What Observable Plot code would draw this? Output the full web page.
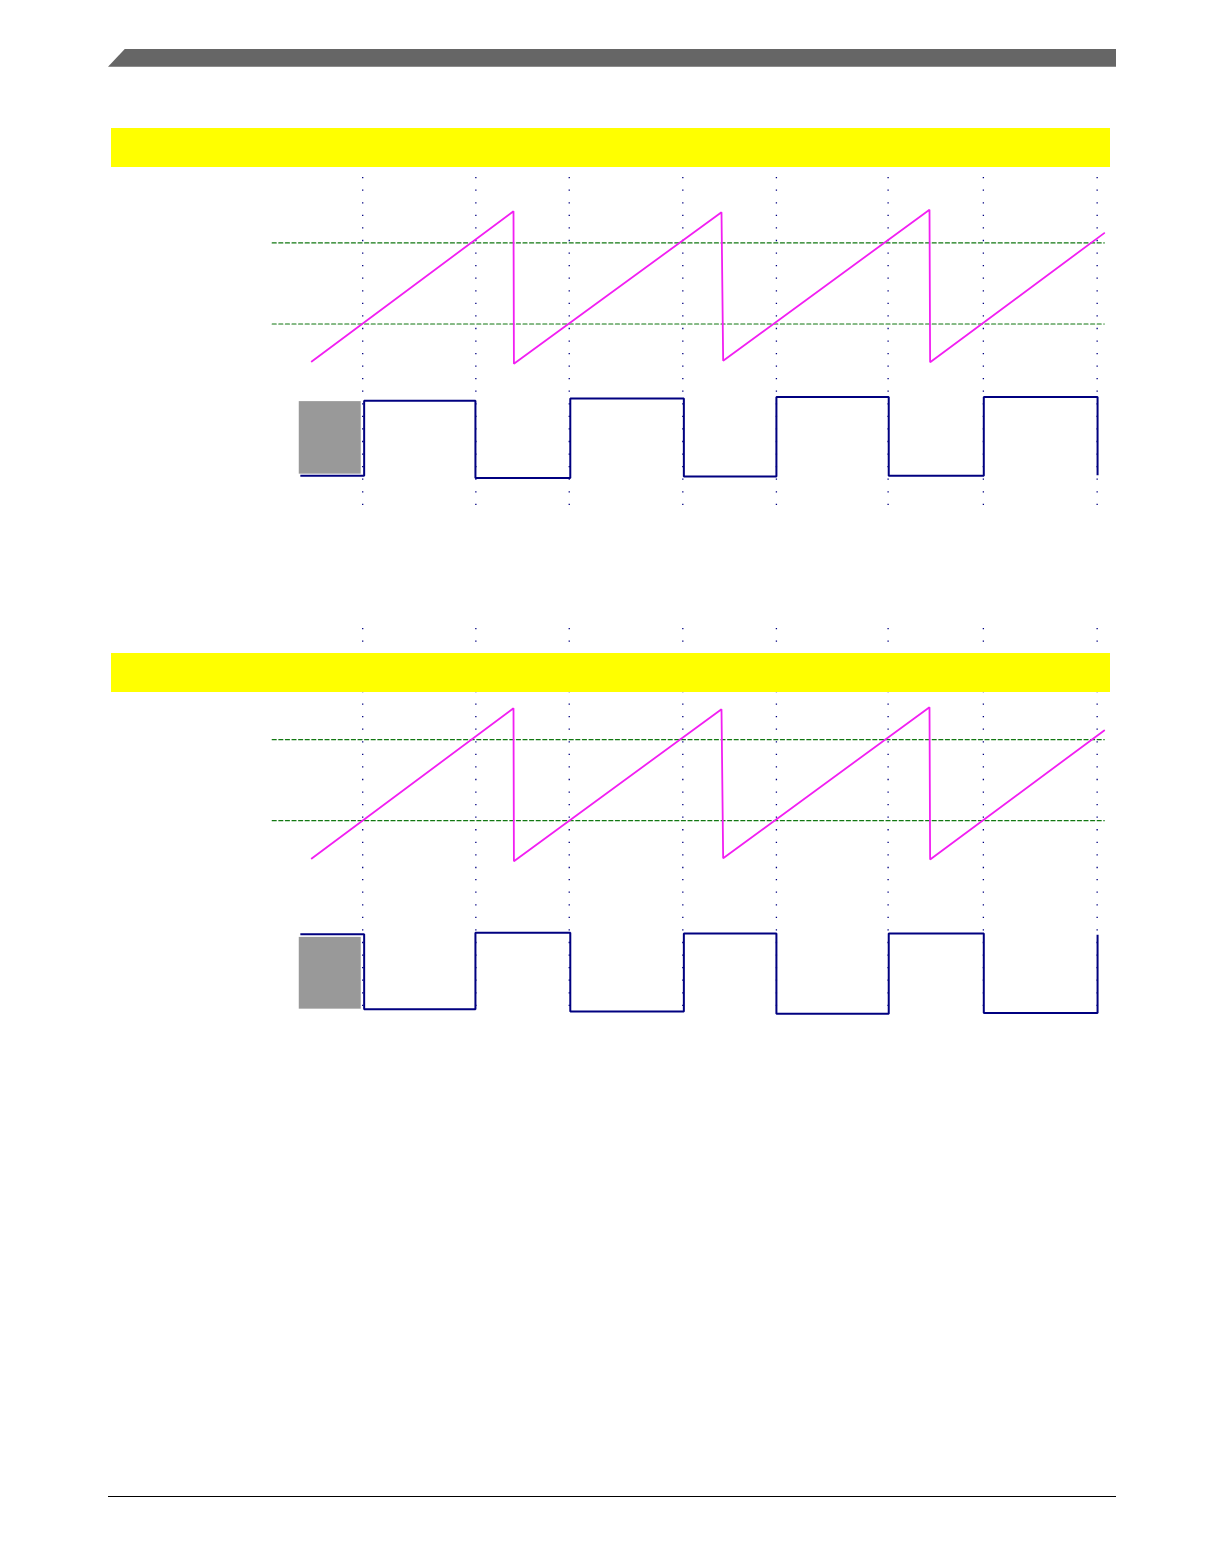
<!DOCTYPE html>
<html>
<head>
<meta charset="utf-8">
<script src="https://cdn.jsdelivr.net/npm/d3@7"></script>
<script src="https://cdn.jsdelivr.net/npm/@observablehq/plot@0.6"></script>
<style>
  html, body { margin: 0; padding: 0; background: #fff; }
  #page { position: relative; width: 1224px; height: 1555px; background: #fff; overflow: hidden; font-family: "Liberation Sans", Arial, sans-serif; }
  .abs { position: absolute; }
  .header { left: 108px; top: 48.7px; width: 1008px; height: 18px; background: #666666;
            clip-path: polygon(17px 0, 100% 0, 100% 100%, 0 100%); }
  .footer { left: 108px; top: 1496px; width: 1008px; height: 1.2px; background: #000; }
  .band { left: 111px; width: 999px; height: 39.3px; background: #ffff00; z-index: 5; }
  .panel svg { display: block; }
</style>
</head>
<body>
<div id="page">
  <div class="abs header"></div>
  <div class="abs band" style="top:127.7px"></div>
  <div class="abs band" style="top:652.7px"></div>
  <div class="abs footer"></div>
</div>
<script>
// ---- data (time in µs-like units, counter in counts, output as logic level) ----
const rampTime   = [0.3, 10, 10.02, 20, 20.08, 30, 30.03, 38.4];
const ramp1Count = [1.5, 99.7, 0, 99.1, 2, 100.7, 1, 85.4];
const ramp2Count = [1.3, 99.5, -0.5, 98.9, 1.5, 100.2, 0.7, 85];
const thresholds = [26, 79];
const thresholdSpan = [-1.6, 38.4];
const gridTimes  = [2.75, 8.19, 12.68, 18.14, 22.64, 28.01, 32.59, 38.06];
const edgeTimes  = [-0.2, 2.82, 8.17, 12.73, 18.19, 22.64, 28.04, 32.61, 38.08];
const out1Level  = [0.01, 0.97, -0.02, 1.0, 0.0, 1.02, 0.01, 1.02, 0.03];
const out2Level  = [0.99, 0.03, 1.01, 0.0, 1.0, -0.03, 1.0, -0.02, 0.97];
const unknownSpan = [-0.3, 2.68];
const unknown1Level = [0.03, 0.96];
const unknown2Level = [0.03, 0.95];

// ---- styling ----
const rampColor = "#f21ff2";
const outColor = "#000080";
const gridColor = "#000080";
const thrColor = "#117711";
const unknownColor = "#999999";
const W = 1224;
const xScale = {domain: [0, 40], range: [305, 1137], axis: null};

function place(svg, top) {
  const d = document.createElement("div");
  d.className = "abs panel";
  d.style.left = "0px";
  d.style.top = top + "px";
  d.appendChild(svg);
  document.getElementById("page").appendChild(d);
}

function gridMark() {
  return Plot.ruleX(gridTimes, {x: d => d, stroke: gridColor, strokeWidth: 1.3,
    strokeDasharray: "1.3,11.27"});
}

function rampPanel(counts, height, yRange) {
  const pts = rampTime.map((t, i) => ({t, c: counts[i]}));
  const thr = thresholds.flatMap(v => thresholdSpan.map(t => ({t, v})));
  return Plot.plot({
    width: W, height,
    marginTop: 0, marginBottom: 0, marginLeft: 0, marginRight: 0,
    style: {background: "transparent", overflow: "visible"},
    x: xScale,
    y: {domain: [0, 100], range: yRange, axis: null},
    marks: [
      gridMark(),
      Plot.line(thr, {x: "t", y: "v", z: "v", stroke: thrColor, strokeWidth: 1.2,
        strokeDasharray: "4,2.6"}),
      Plot.line(pts, {x: "t", y: "c", stroke: rampColor, strokeWidth: 1.8,
        strokeLinejoin: "miter"})
    ]
  });
}

function outPanel(levels, unknownLevel, height, yRange) {
  const pts = edgeTimes.map((t, i) => ({t, v: levels[i]}));
  return Plot.plot({
    width: W, height,
    marginTop: 0, marginBottom: 0, marginLeft: 0, marginRight: 0,
    style: {background: "transparent", overflow: "visible"},
    x: xScale,
    y: {domain: [0, 1], range: yRange, axis: null},
    marks: [
      Plot.rect([{}], {x1: unknownSpan[0], x2: unknownSpan[1],
        y1: unknownLevel[0], y2: unknownLevel[1], fill: unknownColor}),
      gridMark(),
      Plot.line(pts, {x: "t", y: "v", curve: "step-after", stroke: outColor,
        strokeWidth: 2, strokeLinejoin: "miter", strokeLinecap: "square"})
    ]
  });
}

// Diagram 1
place(rampPanel(ramp1Count, 201, [186.3, 33.3]), 177);
place(outPanel(out1Level, unknown1Level, 127, [98, 20]), 378);
// Diagram 2
place(rampPanel(ramp2Count, 251, [232, 79]), 628);
place(outPanel(out2Level, unknown2Level, 138, [132, 54]), 879);
</script>
</body>
</html>
